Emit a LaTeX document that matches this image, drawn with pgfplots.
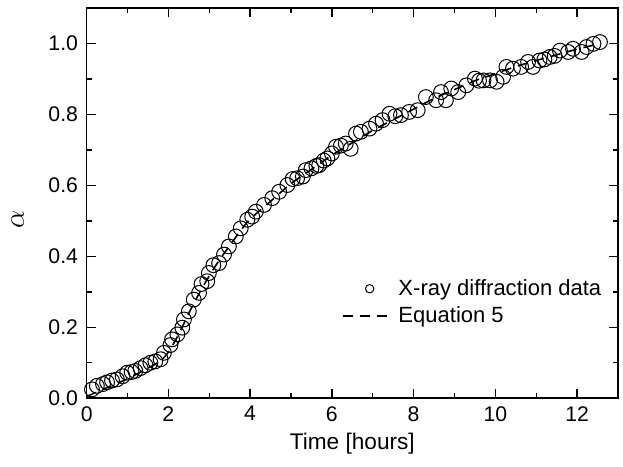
\documentclass[border=0pt]{standalone}
\usepackage{pgfplots}
\pgfplotsset{compat=1.18}
\usepackage{fontspec}
\setmainfont{Liberation Sans}
\pgfplotsset{
  circlegend/.style={legend image code/.code={\draw[##1, mark size=2.1pt] plot coordinates {(13.5pt,0pt)};}},
  linelegend/.style={legend image code/.code={\draw[##1] (0pt,0pt) -- (22.5pt,0pt);}},
}
\begin{document}
\begin{tikzpicture}
\begin{axis}[
  scale only axis,
  width=265.5pt, height=195pt,
  xmin=0, xmax=13, ymin=0, ymax=1.1,
  xtick={0,2,...,12}, ytick={0,0.2,...,1.0},
  minor x tick num=1, minor y tick num=1,
  tick align=inside,
  major tick length=4.5pt, minor tick length=2.5pt,
  axis line style={line width=0.8pt},
  every tick/.style={black, line width=0.7pt},
  /pgf/number format/assume math mode=true,
  yticklabel style={xshift=-0.8pt, /pgf/number format/fixed, /pgf/number format/fixed zerofill, /pgf/number format/precision=1},
  tick label style={font=\fontsize{10.6}{12}\selectfont},
  xticklabel style={yshift=-0.5pt},
  xlabel={Time [hours]},
  ylabel={$\alpha$},
  xlabel style={at={(axis description cs:0.5,0)}, anchor=center, yshift=-22.5pt,
    font=\fontsize{11.3}{13}\selectfont},
  ylabel style={at={([xshift=-34.5pt]axis description cs:0,0.458)}, anchor=center,
    font=\fontsize{14}{16}\selectfont},
  legend style={draw=none, fill=none, at={(0.988,0.327)}, anchor=north east,
    font=\fontsize{11}{12}\selectfont, row sep=0pt, column sep=3pt,
    nodes={inner ysep=2.1pt}},
  legend cell align=left,
]
\addplot[only marks, mark=o, mark size=3.7pt, mark options={line width=0.5pt, black}, circlegend]
coordinates {
(0.13,0.025) (0.25,0.035) (0.40,0.040) (0.50,0.045) (0.62,0.050) (0.74,0.053)
(0.88,0.062) (0.99,0.072) (1.10,0.074) (1.19,0.077) (1.32,0.085) (1.44,0.093)
(1.56,0.100) (1.68,0.104) (1.81,0.110) (1.89,0.128) (2.05,0.150) (2.09,0.166)
(2.22,0.180) (2.34,0.199) (2.38,0.222) (2.50,0.245) (2.62,0.278) (2.75,0.297)
(2.81,0.322) (2.95,0.330) (2.99,0.353) (3.10,0.375) (3.24,0.381) (3.36,0.405)
(3.48,0.428) (3.65,0.456) (3.77,0.479) (3.93,0.503) (4.05,0.512) (4.14,0.526)
(4.34,0.545) (4.54,0.564) (4.71,0.582) (4.91,0.601) (5.04,0.618) (5.15,0.620)
(5.29,0.625) (5.36,0.643) (5.50,0.648) (5.62,0.655) (5.69,0.657) (5.80,0.670)
(5.89,0.676) (6.00,0.690) (6.10,0.709) (6.22,0.712) (6.34,0.718) (6.46,0.703)
(6.59,0.746) (6.71,0.751) (6.92,0.760) (7.08,0.774) (7.24,0.784) (7.41,0.802)
(7.55,0.795) (7.69,0.798) (7.89,0.807) (8.10,0.812) (8.30,0.849) (8.55,0.840)
(8.67,0.863) (8.79,0.840) (8.92,0.873) (9.09,0.863) (9.29,0.882) (9.50,0.901)
(9.60,0.895) (9.71,0.896) (9.87,0.896) (10.03,0.892) (10.19,0.906) (10.27,0.934)
(10.43,0.929) (10.63,0.934) (10.80,0.948) (10.92,0.934) (11.08,0.952) (11.20,0.955)
(11.33,0.962) (11.45,0.965) (11.58,0.980) (11.78,0.976) (11.90,0.985) (12.11,0.976)
(12.23,0.990) (12.40,0.999) (12.56,1.004)
};
\addlegendentry{X-ray diffraction data}
\addplot[black, line width=0.8pt, smooth, dash pattern=on 5pt off 3.5pt, linelegend]
coordinates {
(0,0.005) (0.5,0.03) (1,0.055) (1.5,0.085) (1.8,0.105) (2,0.13) (2.25,0.18)
(2.5,0.24) (2.75,0.295) (3,0.345) (3.25,0.39) (3.5,0.43) (3.75,0.47) (4,0.505)
(4.5,0.555) (5,0.605) (5.5,0.645) (6,0.685) (6.5,0.72) (7,0.755) (7.5,0.785)
(8,0.815) (8.5,0.845) (9,0.87) (9.5,0.895) (10,0.915) (10.5,0.935) (11,0.952)
(11.5,0.968) (12,0.984) (12.5,0.998)
};
\addlegendentry{Equation 5}
\end{axis}
\pgfresetboundingbox
\path ([shift={(-43.3pt,-34pt)}]current axis.south west) rectangle ([shift={(2.5pt,4pt)}]current axis.north east);
\end{tikzpicture}
\end{document}
